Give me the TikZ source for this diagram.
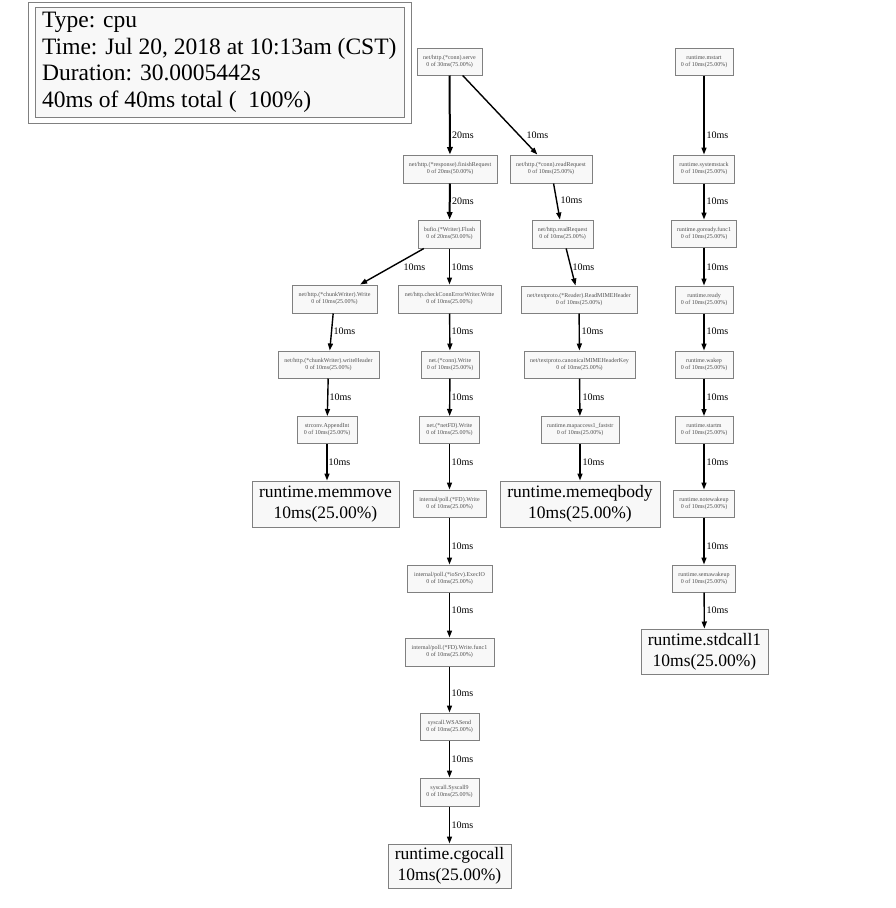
\documentclass[tikz,border=0pt]{standalone}
\usepackage{fontspec}
\setmainfont{Liberation Serif}
\usetikzlibrary{arrows.meta}
\definecolor{boxgray}{HTML}{808080}
\definecolor{boxfill}{HTML}{F8F8F8}
\definecolor{lblgray}{HTML}{505050}
\begin{document}
\begin{tikzpicture}[x=1pt,y=-1pt,
  fn/.style={draw=boxgray, fill=boxfill, line width=1pt, inner sep=0pt, align=center,
    font=\fontsize{6}{7}\selectfont, text=lblgray},
  big/.style={draw=boxgray, fill=boxfill, line width=1pt, inner sep=0pt, align=center,
    font=\fontsize{17.5}{21}\selectfont, text=black},
  eone/.style={-{Triangle[length=7pt,width=5pt]}, line width=1.4pt},
  etwo/.style={-{Triangle[length=7.5pt,width=5.5pt]}, line width=2pt},
  lab/.style={font=\fontsize{10}{12}\selectfont, anchor=west, inner sep=0pt}]
\useasboundingbox (0,0) rectangle (896,908);
\fill[white] (0,0) rectangle (896,908);
% legend
\node[draw=boxgray, fill=white, line width=1pt, minimum width=383, minimum height=121, inner sep=0pt] (legout) at (219.5,62.5) {};
\node[draw=boxgray, fill=boxfill, line width=1pt, minimum width=369, minimum height=110, inner sep=0pt] (legin) at (219.5,62.5) {};
\node[anchor=north west, align=left, inner sep=0pt, font=\fontsize{23.5}{26.5}\selectfont] (legtxt) at (42,12)
  {Type: cpu\\Time: Jul 20, 2018 at 10:13am (CST)\\Duration: 30.0005442s\\40ms of 40ms total (\ \ 100\%)};
% middle columns
\node[fn, minimum width=65, minimum height=27] (serve) at (449.5,61.5) {net/http.(*conn).serve\\0 of 30ms(75.00\%)};
\node[fn, minimum width=94, minimum height=28] (finish) at (450,169) {net/http.(*response).finishRequest\\0 of 20ms(50.00\%)};
\node[fn, minimum width=82, minimum height=28] (creadreq) at (551,169) {net/http.(*conn).readRequest\\0 of 10ms(25.00\%)};
\node[fn, minimum width=62, minimum height=28] (flush) at (449.5,234) {bufio.(*Writer).Flush\\0 of 20ms(50.00\%)};
\node[fn, minimum width=61, minimum height=28] (readreq) at (562.5,234) {net/http.readRequest\\0 of 10ms(25.00\%)};
\node[fn, minimum width=85, minimum height=28] (cwwrite) at (334.5,299) {net/http.(*chunkWriter).Write\\0 of 10ms(25.00\%)};
\node[fn, minimum width=103, minimum height=28] (checkconn) at (449.5,299) {net/http.checkConnErrorWriter.Write\\0 of 10ms(25.00\%)};
\node[fn, minimum width=116, minimum height=27] (readmime) at (579,299.5) {net/textproto.(*Reader).ReadMIMEHeader\\0 of 10ms(25.00\%)};
\node[fn, minimum width=101, minimum height=27] (whdr) at (328.5,364.5) {net/http.(*chunkWriter).writeHeader\\0 of 10ms(25.00\%)};
\node[fn, minimum width=58, minimum height=27] (connwrite) at (450,364.5) {net.(*conn).Write\\0 of 10ms(25.00\%)};
\node[fn, minimum width=111, minimum height=27] (canon) at (579.5,364.5) {net/textproto.canonicalMIMEHeaderKey\\0 of 10ms(25.00\%)};
\node[fn, minimum width=60, minimum height=27] (appendint) at (327,430) {strconv.AppendInt\\0 of 10ms(25.00\%)};
\node[fn, minimum width=60, minimum height=27] (netfd) at (449.5,430) {net.(*netFD).Write\\0 of 10ms(25.00\%)};
\node[fn, minimum width=78, minimum height=27] (mapacc) at (580,430) {runtime.mapaccess1\_faststr\\0 of 10ms(25.00\%)};
\node[big, minimum width=147, minimum height=46] (memmove) at (325.5,504) {runtime.memmove\\10ms(25.00\%)};
\node[big, minimum width=160, minimum height=46] (memeq) at (580,504) {runtime.memeqbody\\10ms(25.00\%)};
\node[fn, minimum width=73, minimum height=27] (fdwrite) at (449.5,503.5) {internal/poll.(*FD).Write\\0 of 10ms(25.00\%)};
\node[fn, minimum width=85, minimum height=27] (execio) at (449.5,578.5) {internal/poll.(*ioSrv).ExecIO\\0 of 10ms(25.00\%)};
\node[fn, minimum width=89, minimum height=28] (func1) at (449.5,652) {internal/poll.(*FD).Write.func1\\0 of 10ms(25.00\%)};
\node[fn, minimum width=59, minimum height=27] (wsasend) at (449.5,726.5) {syscall.WSASend\\0 of 10ms(25.00\%)};
\node[fn, minimum width=59, minimum height=28] (syscall9) at (449.5,792) {syscall.Syscall9\\0 of 10ms(25.00\%)};
\node[big, minimum width=123, minimum height=44] (cgocall) at (449.5,866) {runtime.cgocall\\10ms(25.00\%)};
% right column
\node[fn, minimum width=58, minimum height=27] (mstart) at (704,61.5) {runtime.mstart\\0 of 10ms(25.00\%)};
\node[fn, minimum width=61, minimum height=28] (sysstack) at (704,169) {runtime.systemstack\\0 of 10ms(25.00\%)};
\node[fn, minimum width=65, minimum height=27] (goready) at (704,233.5) {runtime.goready.func1\\0 of 10ms(25.00\%)};
\node[fn, minimum width=58, minimum height=27] (ready) at (704,299.5) {runtime.ready\\0 of 10ms(25.00\%)};
\node[fn, minimum width=58, minimum height=27] (wakep) at (704,364.5) {runtime.wakep\\0 of 10ms(25.00\%)};
\node[fn, minimum width=58, minimum height=27] (startm) at (704,430) {runtime.startm\\0 of 10ms(25.00\%)};
\node[fn, minimum width=61, minimum height=27] (notewake) at (704,503.5) {runtime.notewakeup\\0 of 10ms(25.00\%)};
\node[fn, minimum width=63, minimum height=27] (semawake) at (704,578.5) {runtime.semawakeup\\0 of 10ms(25.00\%)};
\node[big, minimum width=127, minimum height=45] (stdcall) at (704.5,651.5) {runtime.stdcall1\\10ms(25.00\%)};
% edges
\draw[etwo] (serve) -- (finish) node[lab] at (451,135) {20ms};
\draw[eone] (serve) -- (creadreq) node[lab] at (526,135) {10ms};
\draw[etwo] (finish) -- (flush) node[lab] at (451,201) {20ms};
\draw[eone] (creadreq) -- (readreq) node[lab] at (560,200) {10ms};
\draw[eone] (flush) -- (cwwrite) node[lab] at (403,267) {10ms};
\draw[eone] (flush) -- (checkconn) node[lab] at (451,267) {10ms};
\draw[eone] (readreq) -- (readmime) node[lab] at (572,267) {10ms};
\draw[eone] (cwwrite) -- (whdr) node[lab] at (333,331) {10ms};
\draw[eone] (checkconn) -- (connwrite) node[lab] at (451,331) {10ms};
\draw[eone] (readmime) -- (canon) node[lab] at (581,331) {10ms};
\draw[eone] (whdr) -- (appendint) node[lab] at (329,397) {10ms};
\draw[eone] (connwrite) -- (netfd) node[lab] at (451,397) {10ms};
\draw[eone] (canon) -- (mapacc) node[lab] at (582,397) {10ms};
\draw[eone] (appendint) -- (appendint|-memmove.north) node[lab] at (328,462) {10ms};
\draw[eone] (netfd) -- (fdwrite) node[lab] at (451,462) {10ms};
\draw[eone] (mapacc) -- (memeq) node[lab] at (582,462) {10ms};
\draw[eone] (fdwrite) -- (execio) node[lab] at (451,546) {10ms};
\draw[eone] (execio) -- (func1) node[lab] at (451,610) {10ms};
\draw[eone] (func1) -- (wsasend) node[lab] at (451,693) {10ms};
\draw[eone] (wsasend) -- (syscall9) node[lab] at (451,759) {10ms};
\draw[eone] (syscall9) -- (cgocall) node[lab] at (451,825) {10ms};
\draw[eone] (mstart) -- (sysstack) node[lab] at (706,135) {10ms};
\draw[eone] (sysstack) -- (goready) node[lab] at (706,201) {10ms};
\draw[eone] (goready) -- (ready) node[lab] at (706,267) {10ms};
\draw[eone] (ready) -- (wakep) node[lab] at (706,331) {10ms};
\draw[eone] (wakep) -- (startm) node[lab] at (706,397) {10ms};
\draw[eone] (startm) -- (notewake) node[lab] at (706,462) {10ms};
\draw[eone] (notewake) -- (semawake) node[lab] at (706,546) {10ms};
\draw[eone] (semawake) -- (stdcall) node[lab] at (706,610) {10ms};
\end{tikzpicture}
\end{document}
